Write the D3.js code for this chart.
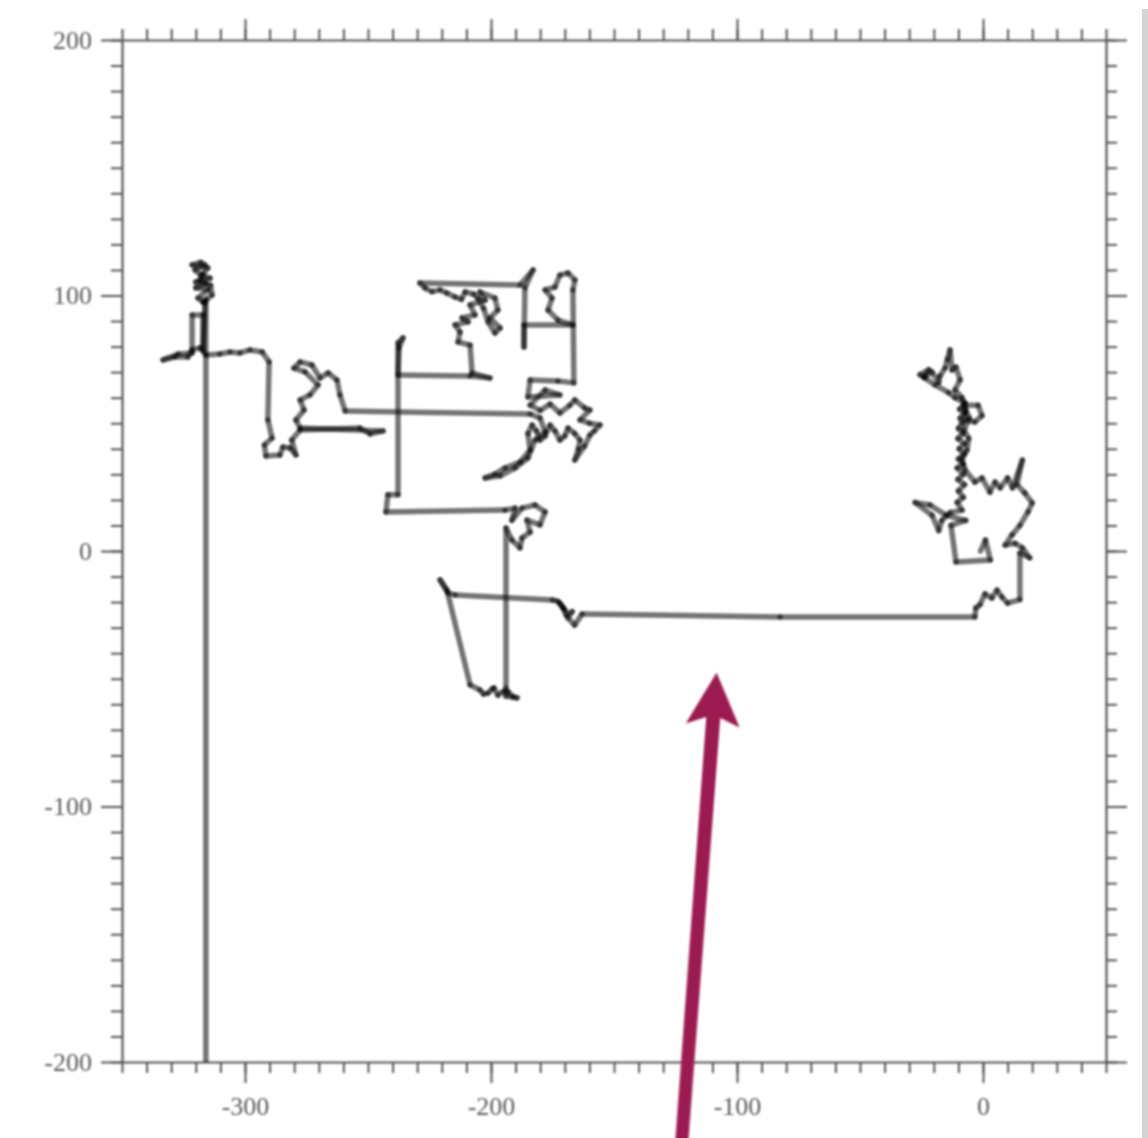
<!DOCTYPE html>
<html>
<head>
<meta charset="utf-8">
<script src="https://cdn.jsdelivr.net/npm/d3@7"></script>
<style>
    body { margin: 0; background: #fff; }
    #chart svg { display: block; }
    #plot-group { filter: blur(0.8px); }
    .tick text { font-family: "Liberation Serif", "DejaVu Serif", serif; font-size: 26px; fill: #5a5a5a; }
</style>
</head>
<body>
<div id="chart"></div>
<script>
// The walk in data units [x, y], split in four pieces
const walkEast = [[-1,0],[1,4.3],[3,-3.5],[-11,-4.3],[-13,10],[-7,12],[-15,14],[-21.5,18],[-27.6,19],[-20.7,14],
    [-18,8],[-16.7,12],[-13.4,15],[-8.5,16],[-10.5,19],[-8,21],[-10,23.5],[-7.5,26],[-10.2,28],[-8,30],[-10.5,32.5],
    [-8.1,34],[-10,36],[-7.7,38],[-9.7,40],[-7.5,42],[-10.2,44],[-8.2,46],[-10,48],[-8.5,50],[-9.3,52],[-7.5,54],
    [-9.5,55.5],[-8,57],[-2,57],[-0.4,53],[-3.3,50.5],[-7.3,51.3],[-7.3,58],[-11.4,60],[-14,62],[-19.5,65],
    [-23.6,67.7],[-25.6,69],[-22,71],[-24,68],[-20.7,70],[-18,66],[-17.5,68.5],[-15.4,71.6],[-14.5,75],[-13.4,78.7],
    [-12.6,70.8],[-11,72],[-9.3,67],[-11.4,63],[-8.5,60],[-6.9,55],[-5.5,52],[-7.7,47.4],[-5.8,44],[-6.5,39.5],
    [-8.5,36],[-7.3,31.7],[-3.3,27],[-0.4,28.6],[2.8,23],[4.9,27],[7,24.7],[10,28.6],[12,24.7],[16,35.6],[13.8,26],
    [17,22.7],[20,18.8],[18.3,15.3],[15,10],[11.8,6.3],[9,2.3],[13,3],[16,1.2],[19,-2.7],[15,-0.8],[15,-19],
    [10,-20.4],[7.7,-18],[5.7,-15.3],[3.6,-18.4],[0.8,-16.8],[-1.2,-21],[-2.9,-22.3],[-3.3,-25.8]];
const walkSouth = [[-82.5,-25.8],[-163,-24.7],[-166,-29],[-168.7,-26.2],[-167,-23.7],
    [-169.5,-25],[-170.7,-22.3],[-172,-20.4],[-170,-23],[-173,-19.6],[-175,-19.2],[-214.6,-17.2],
    [-217.5,-16.4],[-220.7,-11.3],[-217.9,-15.3],[-208.5,-52.4],[-204.5,-54.4],[-203,-56],
    [-201.2,-55.6],[-199.5,-54],[-198.8,-53.6],[-197.2,-56.4],[-195,-55],[-193,-55.2],[-191,-57],[-189.4,-57.5],
    [-193.9,-56.8],[-193.9,-53.6],[-193.9,9],[-191.5,4.3],[-188.2,1.2],[-187.4,5.1],[-184.1,7.4],[-185.4,12.1],
    [-180.1,10.2],[-178,15.3],[-182.1,18],[-187.4,16.8],[-191.5,12],[-190.2,16.8],[-194.3,16]];
const walkMiddle = [[-242.7,15.3],[-241.9,22],[-237.8,22],[-237.8,81.4],[-235.8,83.4],[-237.4,79.5],[-237.8,68.9],
    [-208.5,68.5],[-200.4,67.7],[-207.7,69.7],[-208.5,80.6],[-213.4,81.8],[-212.6,85.7],[-214.6,88.5],[-209.3,89.7],
    [-211.8,91.2],[-206.5,92.4],[-208.5,96.3],[-202.4,98.2],[-204.5,101.4],[-198.4,99],[-197.2,94.3],[-200.4,91.2],
    [-196.3,87.3],[-198.4,85.3],[-201.2,89.7],[-203,95],[-205.3,98.9],[-207,100.5],[-210.5,101.4],[-212,98.5],
    [-214.6,99.4],[-218,101],[-220.7,102.2],[-224,101.5],[-226.8,102.9],[-228.9,104.9],[-188.2,104.1],
    [-182.9,110],[-186.2,103],[-186.6,79.8],[-186.6,88.5],[-166.7,88.5],[-172.8,90.4],[-176.8,94.3],[-175.2,99],
    [-178,102.2],[-174,103.3],[-172,108],[-168.7,108.8],[-165.9,106.1],[-166.7,102.2],[-166.3,65.8],[-172.8,66.5],
    [-184.1,66.9],[-185,60.3],[-172,61.1],[-178,63],[-184.1,57.1],[-180,55],[-176,57.5],[-172,54],[-168,57],
    [-165.9,59.1],[-162,56],[-159.8,55.2],[-163.8,51.3],[-160,50],[-155.7,49.3],[-158,47],[-159.8,45.4],[-162,41],
    [-165.9,35.6],[-164.5,40],[-163.8,43.4],[-166,46],[-168.7,48.1],[-170,45],[-172,43.4],[-174,47],[-176,49.3],
    [-178,45],[-180.1,43.4],[-181.5,47],[-183.3,49.3],[-185,46],[-184.1,39.5],[-188.2,34.8],[-194.3,32.5],
    [-198.4,30.1],[-202.4,28.6],[-196.3,29.4],[-190.2,32.5],[-185,36.4],[-182.1,43.4],[-178,46.6],[-180.1,52.1],
    [-184.1,53.6],[-259.3,54.8]];
const walkWest = [[-261.4,61.1],[-262.6,66.9],[-266.2,69.7],[-269.5,67.7],[-272.8,72.8],[-277.6,74],[-280.1,71.6],
    [-275.6,70.1],[-270.3,65],[-273.6,61.1],[-277.6,59.1],[-276,55.2],[-279.3,51.3],[-277.6,48.1],[-243.9,47],
    [-249.2,45.8],[-253.3,48.1],[-277.6,47.4],[-281,43.4],[-279.3,37.6],[-281.7,40.3],[-284.6,40.7],[-285.8,37.6],
    [-291.5,37.2],[-292.1,41.5],[-289,44.2],[-290.7,51.3],[-290.2,74],[-293,77.9],[-298,78.7],[-302,77.5],
    [-306.1,77.9],[-310.2,77.1],[-315.9,76.7],[-318.3,79.5],[-321.5,78.7],[-323.2,75.9],[-328.5,75.9],
    [-333.3,74.8],[-327.2,77.1],[-321.5,77.5],[-321.5,92.4],[-317.1,92.4],[-317.1,78.7],[-316.3,97.1],
    [-319.1,99],[-315.1,102.2],[-320,103],[-316,104.5],[-320,105.3],[-314.2,106.8],[-318,108],[-320.3,110],
    [-316.3,112],[-318,113],[-321.5,112],[-315.1,110.8],[-317,108.5],[-318.3,106.1],[-314,104],[-313.4,100.2],
    [-317.1,97.4],[-315.9,98.2],[-315.9,-260]];

// axis ranges and tick labels
const xDomain = [-350, 50];
const yDomain = [-200, 200];
const xMajorTicks = [-300, -200, -100, 0];
const yMajorTicks = [-200, -100, 0, 100, 200];
const minorStep = 10;

// the annotation arrow, tip and tail in data units
const arrowTip = [-108.3, -47.6];
const arrowTail = [-122.7, -234.4];

class WalkChart {
    constructor() {
        this.WIDTH = 1148;
        this.HEIGHT = 1138;
        this.MARGINS = {top: 40, bottom: 76, left: 122, right: 42};
        this.MAJOR = 21;
        this.MINOR = 11;

        this.xScale = d3.scaleLinear(xDomain, [this.MARGINS.left, this.WIDTH - this.MARGINS.right]);
        this.yScale = d3.scaleLinear(yDomain, [this.HEIGHT - this.MARGINS.bottom, this.MARGINS.top]);

        this.svg = d3.select('#chart').append('svg')
            .attr('width', this.WIDTH)
            .attr('height', this.HEIGHT);
        this.svg.append('rect').attr('width', this.WIDTH).attr('height', this.HEIGHT).attr('fill', '#fff');
        // grey strip on the far right of the screenshot
        this.svg.append('rect')
            .attr('x', this.WIDTH - 6).attr('y', 9).attr('width', 6).attr('height', this.HEIGHT - 9)
            .attr('fill', '#d5d5d5');

        this.plot = this.svg.append('g').attr('id', 'plot-group');
        this.drawAxes();
        this.drawWalk();
        this.drawArrow();
    }

    drawAxes() {
        const x = this.xScale, y = this.yScale;
        const bottom = this.HEIGHT - this.MARGINS.bottom, top = this.MARGINS.top;
        const left = this.MARGINS.left, right = this.WIDTH - this.MARGINS.right;
        const xMinor = d3.range(xDomain[0], xDomain[1] + 1, minorStep);
        const yMinor = d3.range(yDomain[0], yDomain[1] + 1, minorStep);

        const axes = [
            {axis: d3.axisBottom(x), at: `translate(0,${bottom})`, major: xMajorTicks, minor: xMinor, labels: true},
            {axis: d3.axisTop(x), at: `translate(0,${top})`, major: xMajorTicks, minor: xMinor, labels: false},
            {axis: d3.axisLeft(y), at: `translate(${left},0)`, major: yMajorTicks, minor: yMinor, labels: true},
            {axis: d3.axisRight(y), at: `translate(${right},0)`, major: yMajorTicks, minor: yMinor, labels: false}
        ];

        axes.forEach((a) => {
            // minor ticks first, no labels, no domain
            this.plot.append('g')
                .attr('transform', a.at)
                .call(a.axis.tickValues(a.minor).tickSize(this.MINOR).tickSizeOuter(0).tickFormat(''))
                .call(g => g.select('.domain').remove());
            // major ticks + the frame line
            const vertical = (a.major === yMajorTicks);
            this.plot.append('g')
                .attr('transform', a.at)
                .call(a.axis.tickValues(a.major).tickSize(this.MAJOR).tickSizeOuter(0)
                    .tickPadding(vertical ? 9 : 14)
                    .tickFormat(a.labels ? (d => String(d)) : ''));
        });

        this.plot.selectAll('.tick line').attr('stroke', '#555').attr('stroke-width', 2);
        this.plot.selectAll('.domain').attr('stroke', '#555').attr('stroke-width', 2.2);
    }

    drawWalk() {
        const x = this.xScale, y = this.yScale;
        const walk = walkEast.concat(walkSouth, walkMiddle, walkWest);

        this.svg.append('clipPath').attr('id', 'plot-clip')
            .append('rect')
            .attr('x', x(xDomain[0])).attr('y', y(yDomain[1]))
            .attr('width', x(xDomain[1]) - x(xDomain[0]))
            .attr('height', y(yDomain[0]) - y(yDomain[1]));

        // one line per step so that the crowded bits come out darker than the long straight runs
        this.plot.append('g')
            .attr('clip-path', 'url(#plot-clip)')
            .selectAll('line')
            .data(d3.pairs(walk))
            .join('line')
            .attr('x1', d => x(d[0][0]))
            .attr('y1', d => y(d[0][1]))
            .attr('x2', d => x(d[1][0]))
            .attr('y2', d => y(d[1][1]))
            .style('stroke', '#000')
            .style('stroke-opacity', 0.55)
            .style('stroke-width', '5.5px')
            .style('stroke-linecap', 'round');
    }

    drawArrow() {
        const tip = [this.xScale(arrowTip[0]), this.yScale(arrowTip[1])];
        const tail = [this.xScale(arrowTail[0]), this.yScale(arrowTail[1])];
        const len = Math.hypot(tail[0] - tip[0], tail[1] - tip[1]);
        const angle = Math.atan2(tail[1] - tip[1], tail[0] - tip[0]) * 180 / Math.PI;

        // shape drawn along +x from the tip, then turned towards the tail
        const shape = [[0, 0], [53, -27], [45, -7], [len, -6.5], [len, 6.5], [45, 7], [53, 27]];
        this.plot.append('path')
            .attr('d', d3.line()(shape) + 'Z')
            .attr('transform', `translate(${tip[0]},${tip[1]}) rotate(${angle})`)
            .attr('fill', '#9b1a50');
    }
}

new WalkChart();
</script>
</body>
</html>
